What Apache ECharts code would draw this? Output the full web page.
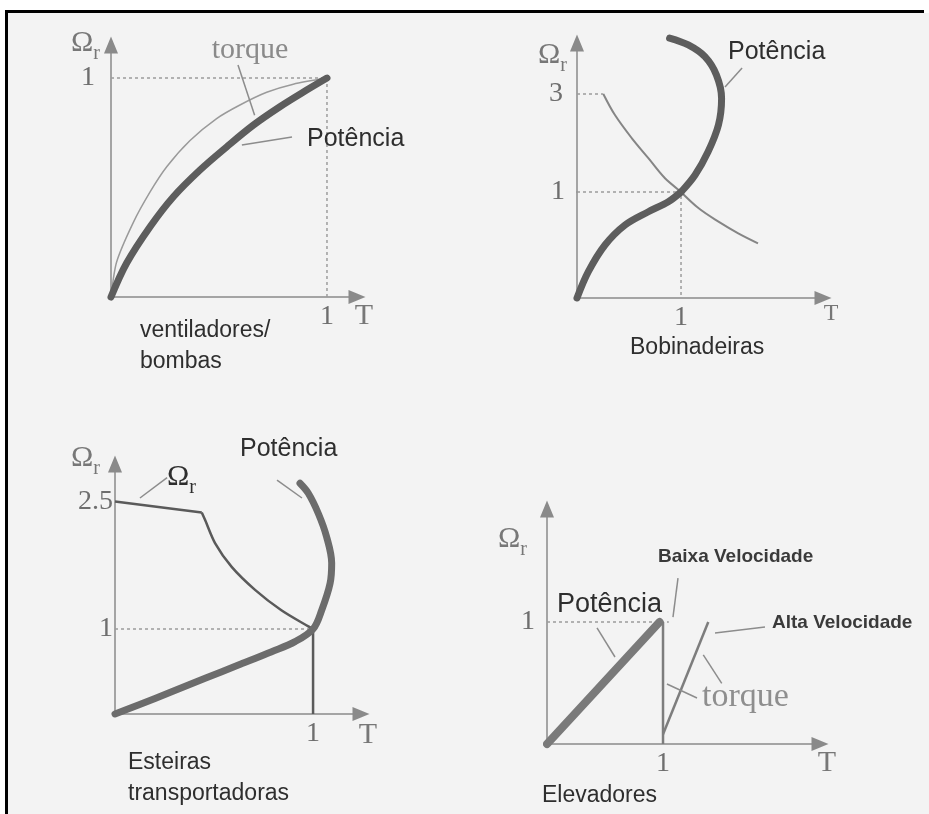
<!DOCTYPE html>
<html>
<head>
<meta charset="utf-8">
<script src="https://cdn.jsdelivr.net/npm/echarts@6/dist/echarts.min.js"></script>
<style>
  html, body { margin: 0; padding: 0; background: #ffffff; }
  #chart { width: 929px; height: 814px; }
</style>
</head>
<body>
<div id="chart"></div>
<script>
// ---------- Ventiladores / bombas ----------
const fanTorqueT = [0, 0.026, 0.103, 0.181, 0.258, 0.366, 0.489, 0.597, 0.721, 0.844, 1];
const fanTorqueW = [0, 0.16, 0.34, 0.48, 0.595, 0.715, 0.815, 0.877, 0.935, 0.972, 1];
const fanPowerT  = [0, 0.072, 0.181, 0.289, 0.412, 0.536, 0.659, 0.782, 0.906, 1];
const fanPowerW  = [0, 0.154, 0.321, 0.458, 0.58, 0.686, 0.785, 0.869, 0.945, 1];

// ---------- Bobinadeiras ----------
const winderTorqueT = [0.253, 0.365, 0.526, 0.686, 0.846, 1, 1.17, 1.36, 1.55, 1.74];
const winderTorqueW = [3.0, 2.57, 2.10, 1.69, 1.28, 1, 0.846, 0.72, 0.61, 0.516];
const winderPowerT  = [0, 0.109, 0.269, 0.462, 0.686, 0.878, 1, 1.135, 1.26, 1.36, 1.39, 1.34, 1.23, 1.07, 0.89];
const winderPowerW  = [0, 0.248, 0.5, 0.689, 0.814, 0.908, 1, 1.347, 1.82, 2.37, 2.91, 3.39, 3.76, 4.0, 4.14];

// ---------- Esteiras transportadoras ----------
const conveyorLimitFlatT  = [0, 0.438];
const conveyorLimitFlatW  = [2.5, 2.37];
const conveyorLimitCurveT = [0.438, 0.455, 0.505, 0.589, 0.707, 0.84, 0.976, 1];
const conveyorLimitCurveW = [2.37, 2.28, 2.01, 1.73, 1.46, 1.22, 1.03, 1];
const conveyorLimitDropT  = [1, 1];
const conveyorLimitDropW  = [1, 0];
const conveyorPowerT = [0, 0.118, 0.286, 0.455, 0.623, 0.791, 0.909, 1, 1.044, 1.086, 1.094, 1.068, 1.026, 0.976, 0.934];
const conveyorPowerW = [0, 0.106, 0.262, 0.42, 0.576, 0.733, 0.851, 1, 1.224, 1.538, 1.773, 2.086, 2.361, 2.596, 2.714];

// ---------- Elevadores ----------
const liftPowerT = [0, 0.97];
const liftPowerW = [0, 1];
const liftLowTorqueT = [1, 1];
const liftLowTorqueW = [0, 1];
const liftHighTorqueT = [1, 1.39];
const liftHighTorqueW = [0.08, 1];

// tick labels shown on each axis
const xTicks = [[1], [1], [], [1], [1]];
const yTicks = [[1], [1], [3], [1, 2.5], [1]];
const yTickText = { 1: '1', 3: '3', 2.5: '2.5' };

const pair = (xs, ys) => xs.map((x, i) => [x, ys[i]]);
const below = (pts, lim) => pts.filter(p => p[1] <= lim);
const above = (pts, lim) => pts.filter(p => p[1] >= lim);

const SERIF = '"Liberation Serif", "DejaVu Serif", serif';
const SANS = '"Liberation Sans", Arial, sans-serif';
const AXIS_COLOR = '#8a8a8a';

// plot frames: fans, winders (0..1), winders (1..top), conveyors, lifts
const grids = [
  { left: 111, top: 45,  width: 246, height: 252 },
  { left: 577, top: 192, width: 246, height: 106 },
  { left: 577, top: 43,  width: 246, height: 149 },
  { left: 115, top: 464, width: 246, height: 250 },
  { left: 547, top: 509, width: 273, height: 235 }
];
const xMax = [1.139, 2.365, 2.365, 1.242, 2.353];
const yMin = [0, 0, 1, 0, 0];
const yMax = [1.151, 1, 4.04, 2.94, 1.926];
const yLabelMargin = [16, 12, 14, 2, 12];

const omegaRich = {
  o: { fontFamily: SERIF, fontSize: 30, color: '#777' },
  s: { fontFamily: SERIF, fontSize: 20, color: '#777', verticalAlign: 'bottom', padding: [0, 0, -6, 0] }
};
const yNames = [
  { gap: -14, pad: 11 }, null, { gap: -12, pad: 10 }, { gap: 6, pad: 15 }, { gap: -30, pad: 20 }
];
const xNames = [
  { gap: 7, top: 4, size: 30 }, { gap: 8, top: 4, size: 24 }, null, { gap: 7, top: 6, size: 30 }, { gap: 7, top: 4, size: 30 }
];

const xAxis = grids.map((g, i) => ({
  type: 'value', gridIndex: i, min: 0, max: xMax[i],
  show: i !== 2,
  splitLine: { show: false },
  axisTick: { show: false },
  axisLine: {
    onZero: false,
    symbol: ['none', 'triangle'], symbolSize: [14, 17],
    lineStyle: { color: AXIS_COLOR, width: 1.5 }
  },
  axisLabel: {
    customValues: xTicks[i], margin: 6,
    fontFamily: SERIF, fontSize: 28, color: '#6e6e6e',
    formatter: v => String(v)
  },
  name: xNames[i] ? 'T' : '',
  nameLocation: 'end',
  nameGap: xNames[i] ? xNames[i].gap : 0,
  nameTextStyle: xNames[i] ? {
    fontFamily: SERIF, fontSize: xNames[i].size, color: '#777',
    align: 'center', verticalAlign: 'top', padding: [xNames[i].top, 0, 0, 0]
  } : {}
}));

const yAxis = grids.map((g, i) => ({
  type: 'value', gridIndex: i, min: yMin[i], max: yMax[i],
  splitLine: { show: false },
  axisTick: { show: false },
  axisLine: {
    onZero: false,
    symbol: i === 1 ? ['none', 'none'] : ['none', 'triangle'], symbolSize: [14, 17],
    lineStyle: { color: AXIS_COLOR, width: 1.5 }
  },
  axisLabel: {
    customValues: yTicks[i], margin: yLabelMargin[i],
    fontFamily: SERIF, fontSize: 28, color: '#6e6e6e',
    formatter: v => yTickText[v] || String(v)
  },
  name: yNames[i] ? '{o|Ω}{s|r}' : '',
  nameLocation: 'end',
  nameGap: yNames[i] ? yNames[i].gap : 0,
  nameTextStyle: yNames[i] ? {
    align: 'right', verticalAlign: 'middle', padding: [0, yNames[i].pad, 0, 0], rich: omegaRich
  } : {}
}));

function curve(grid, pts, style, smooth) {
  return {
    type: 'line', xAxisIndex: grid, yAxisIndex: grid, data: pts,
    showSymbol: false, smooth: smooth === undefined ? 0.35 : smooth,
    clip: false, silent: true,
    lineStyle: style, z: style.width > 4 ? 4 : 3
  };
}
const thick = { color: '#5d5d5d', width: 7, cap: 'round', join: 'round' };
const thickLight = { color: '#6c6c6c', width: 7, cap: 'round', join: 'round' };
const thin = { color: '#9a9a9a', width: 1.5 };
const medium = { color: '#858585', width: 2 };
const dark = { color: '#5a5a5a', width: 2.5, join: 'round' };
const dotted = { color: '#9c9c9c', width: 1.5, type: [3, 3] };
const leader = { color: '#8c8c8c', width: 1.5 };

const winderPower = pair(winderPowerT, winderPowerW);
const winderTorque = pair(winderTorqueT, winderTorqueW);

const series = [
  // fans
  curve(0, [[0, 1], [1, 1], [1, 0]], dotted, false),
  curve(0, pair(fanTorqueT, fanTorqueW), thin, 0.25),
  curve(0, pair(fanPowerT, fanPowerW), thick),
  curve(0, [[0.588, 1.06], [0.665, 0.83]], leader, false),
  curve(0, [[0.838, 0.731], [0.606, 0.694]], leader, false),

  // winders
  curve(1, [[0, 1], [1, 1], [1, 0]], dotted, false),
  curve(2, [[0, 3], [0.253, 3]], dotted, false),
  curve(2, above(winderTorque, 1), medium),
  curve(1, below(winderTorque, 1), medium),
  curve(1, below(winderPower, 1), thick),
  curve(2, above(winderPower, 1), thick),
  curve(2, [[1.423, 3.14], [1.587, 3.53]], leader, false),

  // conveyors
  curve(3, [[0, 1], [1, 1]], dotted, false),
  curve(3, pair(conveyorLimitFlatT, conveyorLimitFlatW), dark, false),
  curve(3, pair(conveyorLimitCurveT, conveyorLimitCurveW), dark, 0.3),
  curve(3, pair(conveyorLimitDropT, conveyorLimitDropW), dark, false),
  curve(3, pair(conveyorPowerT, conveyorPowerW), thickLight),
  curve(3, [[0.263, 2.78], [0.126, 2.54]], leader, false),
  curve(3, [[0.818, 2.75], [0.944, 2.54]], leader, false),

  // lifts
  curve(4, [[0, 1], [1.05, 1]], dotted, false),
  curve(4, pair(liftPowerT, liftPowerW), { color: '#7a7a7a', width: 8, cap: 'round' }, false),
  curve(4, pair(liftLowTorqueT, liftLowTorqueW), { color: '#7d7d7d', width: 2.5 }, false),
  curve(4, pair(liftHighTorqueT, liftHighTorqueW), { color: '#7d7d7d', width: 2.5 }, false),
  curve(4, [[1.129, 1.36], [1.086, 1.04]], leader, false),
  curve(4, [[1.879, 0.959], [1.448, 0.91]], leader, false),
  curve(4, [[1.293, 0.377], [1.034, 0.492]], leader, false),
  curve(4, [[1.506, 0.497], [1.347, 0.73]], leader, false),
  curve(4, [[0.431, 0.951], [0.586, 0.713]], leader, false)
];

function label(x, y, text, opts) {
  return {
    type: 'text', x: x, y: y, z: 10, silent: true,
    style: Object.assign({
      text: text, fill: '#2e2e2e', fontFamily: SANS, fontSize: 25,
      align: 'left', verticalAlign: 'middle'
    }, opts || {})
  };
}

const graphic = [
  { type: 'rect', z: -10, silent: true, shape: { x: 8, y: 13, width: 921, height: 801 }, style: { fill: '#f3f3f3' } },
  { type: 'rect', z: -9, silent: true, shape: { x: 5, y: 10, width: 919, height: 3 }, style: { fill: '#000' } },
  { type: 'rect', z: -9, silent: true, shape: { x: 5, y: 10, width: 3, height: 804 }, style: { fill: '#000' } },

  label(250, 50, 'torque', { fontFamily: SERIF, fontSize: 30, fill: '#8a8a8a', align: 'center' }),
  label(307, 139, 'Potência'),
  label(728, 52, 'Potência'),
  label(240, 449, 'Potência'),
  label(167, 477, '{o|Ω}{s|r}', { rich: omegaRich }),
  label(658, 557, 'Baixa Velocidade', { fontSize: 19, fontWeight: 'bold', fill: '#3a3a3a' }),
  label(557, 605, 'Potência', { fontSize: 27 }),
  label(772, 623, 'Alta Velocidade', { fontSize: 19, fontWeight: 'bold', fill: '#3a3a3a' }),
  label(702, 697, 'torque', { fontFamily: SERIF, fontSize: 34, fill: '#8e8e8e' })
];

const captionStyle = { fontFamily: SANS, fontSize: 23, fontWeight: 'normal', color: '#2e2e2e', lineHeight: 31 };
const title = [
  { text: 'ventiladores/\nbombas', left: 140, top: 315, padding: 0, textStyle: captionStyle },
  { text: 'Bobinadeiras', left: 630, top: 332, padding: 0, textStyle: captionStyle },
  { text: 'Esteiras\ntransportadoras', left: 128, top: 747, padding: 0, textStyle: captionStyle },
  { text: 'Elevadores', left: 542, top: 780, padding: 0, textStyle: captionStyle }
];

const chart = echarts.init(document.getElementById('chart'), null, { renderer: 'canvas' });
chart.setOption({
  animation: false,
  backgroundColor: '#ffffff',
  title: title,
  grid: grids,
  xAxis: xAxis,
  yAxis: yAxis,
  series: series,
  graphic: graphic
});
</script>
</body>
</html>
